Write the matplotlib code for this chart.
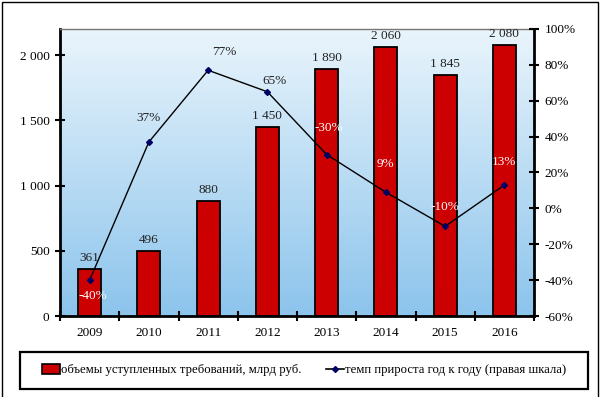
import numpy as np
import matplotlib
matplotlib.use('Agg')
import matplotlib.pyplot as plt
from matplotlib.patches import Rectangle, Patch
from matplotlib.lines import Line2D
from matplotlib.colors import LinearSegmentedColormap
from matplotlib.ticker import FuncFormatter

plt.rcParams['font.family'] = ['Liberation Serif', 'DejaVu Serif']
plt.rcParams['font.size'] = 9.5

# Данные
years = ['2009', '2010', '2011', '2012', '2013', '2014', '2015', '2016']
volumes = [361, 496, 880, 1450, 1890, 2060, 1845, 2080]
volume_labels = ['361', '496', '880', '1 450', '1 890', '2 060', '1 845', '2 080']
growth = [-40, 37, 77, 65, 30, 9, -10, 13]
growth_labels = ['-40%', '37%', '77%', '65%', '-30%', '9%', '-10%', '13%']

# смещения подписей (в пунктах) и цвет подписей
growth_offsets = [(2, -11.5), (0, 17), (11.5, 13), (5, 8),
                  (1.5, 19), (0, 20), (0, 14), (0, 16.5)]
growth_colors = ['white', '#222222', '#222222', '#222222',
                 'white', 'white', 'white', 'white']

fig = plt.figure(figsize=(6, 3.97), dpi=100)
ax = fig.add_axes([0.1, 0.204, 0.79, 0.723])

x = np.arange(len(years))
ax.set_xlim(-0.5, len(years) - 0.5)
ax.set_ylim(0, 2200)

# фон-градиент
cmap = LinearSegmentedColormap.from_list('bg', ['#8cc4ec', '#eaf5fc'])
grad = np.linspace(0, 1, 256).reshape(-1, 1)
ax.imshow(grad, extent=[-0.5, len(years) - 0.5, 0, 2200], origin='lower',
          aspect='auto', cmap=cmap, zorder=0)

ax.bar(x, volumes, width=0.39, color='#cc0000', edgecolor='black',
       linewidth=1.3, zorder=2)
for xi, v, lab in zip(x, volumes, volume_labels):
    ax.annotate(lab, (xi, v), xytext=(0, 8), textcoords='offset points',
                ha='center', va='center', color='#222222', zorder=5)

ax.set_yticks([0, 500, 1000, 1500, 2000])
ax.yaxis.set_major_formatter(FuncFormatter(lambda v, p: f'{int(v):,}'.replace(',', ' ')))
ax.set_xticks(x)
ax.set_xticklabels(years)
ax.set_xticks(np.arange(-0.5, len(years) - 0.4, 1), minor=True)
ax.tick_params(axis='x', which='major', length=0, pad=8)
ax.tick_params(axis='x', which='minor', direction='inout', length=7, width=1.5)
ax.tick_params(axis='y', direction='inout', length=7, width=1.5, pad=4)

for s in ['left', 'bottom']:
    ax.spines[s].set_linewidth(2)
ax.spines['top'].set_color('#777777')
ax.spines['top'].set_linewidth(1)
ax.spines['right'].set_visible(False)

# правая шкала
ax2 = ax.twinx()
ax2.set_ylim(-60, 100)
ax2.set_yticks(range(-60, 101, 20))
ax2.yaxis.set_major_formatter(FuncFormatter(lambda v, p: f'{int(v)}%'))
ax2.tick_params(axis='y', direction='inout', length=7, width=1.5, pad=4)
ax2.spines['right'].set_linewidth(2)
for s in ['left', 'bottom', 'top']:
    ax2.spines[s].set_visible(False)

ax2.plot(x, growth, color='black', linewidth=1.0, marker='D', markersize=3,
         markerfacecolor='#000066', markeredgecolor='#000066', zorder=4)
for xi, g, lab, off, c in zip(x, growth, growth_labels, growth_offsets, growth_colors):
    ax2.annotate(lab, (xi, g), xytext=off, textcoords='offset points',
                 ha='center', va='center', color=c, zorder=5)

# легенда
handles = [Patch(facecolor='#cc0000', edgecolor='black', linewidth=1.2),
           Line2D([0], [0], color='black', linewidth=1.2, marker='D',
                  markersize=3, markerfacecolor='#000066', markeredgecolor='#000066')]
labels = ['объемы уступленных требований, млрд руб.',
          'темп прироста год к году (правая шкала)']
fig.legend(handles, labels, loc='center left', bbox_to_anchor=(0.07, 0.068),
           ncol=2, frameon=False, fontsize=9.15, handlelength=1.4, handleheight=0.8,
           handletextpad=0.1, columnspacing=1.95, borderpad=0, borderaxespad=0)
fig.patches.append(Rectangle((20 / 600, 8 / 397), 568 / 600, 37 / 397,
                             transform=fig.transFigure, fill=False,
                             edgecolor='black', linewidth=1.6))
fig.patches.append(Rectangle((1.5 / 600, -0.05), 596.5 / 600, 1.05 - 1.5 / 397,
                             transform=fig.transFigure, fill=False,
                             edgecolor='black', linewidth=1))

fig.savefig('out.png', dpi=100)
